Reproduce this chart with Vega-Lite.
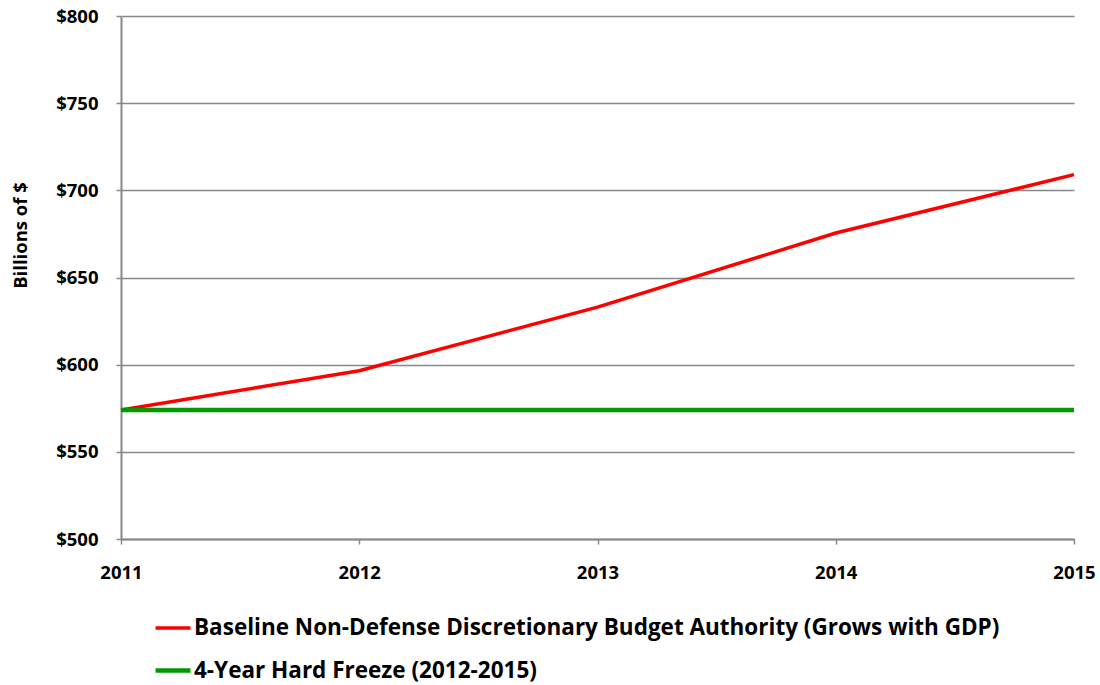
{
  "$schema": "https://vega.github.io/schema/vega-lite/v6.json",
  "width": 953,
  "height": 523,
  "autosize": {"type": "none"},
  "padding": {"left": 121, "top": 16, "right": 26, "bottom": 146},
  "background": "white",
  "config": {
    "view": {"stroke": null},
    "font": "Open Sans"
  },
  "data": {
    "values": [
      {"year": 2011, "value": 574, "series": "Baseline Non-Defense Discretionary Budget Authority (Grows with GDP)"},
      {"year": 2012, "value": 596.5, "series": "Baseline Non-Defense Discretionary Budget Authority (Grows with GDP)"},
      {"year": 2013, "value": 633, "series": "Baseline Non-Defense Discretionary Budget Authority (Grows with GDP)"},
      {"year": 2014, "value": 675.5, "series": "Baseline Non-Defense Discretionary Budget Authority (Grows with GDP)"},
      {"year": 2015, "value": 709, "series": "Baseline Non-Defense Discretionary Budget Authority (Grows with GDP)"},
      {"year": 2011, "value": 574, "series": "4-Year Hard Freeze (2012-2015)"},
      {"year": 2012, "value": 574, "series": "4-Year Hard Freeze (2012-2015)"},
      {"year": 2013, "value": 574, "series": "4-Year Hard Freeze (2012-2015)"},
      {"year": 2014, "value": 574, "series": "4-Year Hard Freeze (2012-2015)"},
      {"year": 2015, "value": 574, "series": "4-Year Hard Freeze (2012-2015)"}
    ]
  },
  "mark": {"type": "line", "strokeCap": "butt"},
  "encoding": {
    "x": {
      "field": "year",
      "type": "quantitative",
      "scale": {"domain": [2011, 2015], "nice": false, "zero": false},
      "axis": {
        "title": null,
        "values": [2011, 2012, 2013, 2014, 2015],
        "format": "d",
        "grid": false,
        "domainColor": "#888888",
        "domainWidth": 2,
        "tickColor": "#888888",
        "tickWidth": 1.5,
        "tickSize": 5,
        "labelFont": "Open Sans",
        "labelFontSize": 18.5,
        "labelFontWeight": "bold",
        "labelColor": "#000000",
        "labelPadding": 19,
        "labelFlush": false
      }
    },
    "y": {
      "field": "value",
      "type": "quantitative",
      "scale": {"domain": [500, 800], "nice": false, "zero": false},
      "axis": {
        "title": "Billions of $",
        "titleFont": "Open Sans",
        "titleFontSize": 18.5,
        "titleFontWeight": "bold",
        "titleColor": "#000000",
        "titleX": -101,
        "titleY": 219,
        "titleAngle": -90,
        "titleAlign": "center",
        "titleBaseline": "middle",
        "values": [500, 550, 600, 650, 700, 750, 800],
        "labelExpr": "'$' + datum.value",
        "grid": true,
        "gridColor": "#888888",
        "gridWidth": 1.5,
        "domainColor": "#888888",
        "domainWidth": 2,
        "tickColor": "#888888",
        "tickWidth": 1.5,
        "tickSize": 5,
        "labelFont": "Open Sans",
        "labelFontSize": 18.5,
        "labelFontWeight": "bold",
        "labelColor": "#000000",
        "labelPadding": 18
      }
    },
    "color": {
      "field": "series",
      "type": "nominal",
      "scale": {
        "domain": ["Baseline Non-Defense Discretionary Budget Authority (Grows with GDP)", "4-Year Hard Freeze (2012-2015)"],
        "range": ["#ff0000", "#009900"]
      },
      "legend": {
        "title": null,
        "orient": "none",
        "legendX": 32,
        "legendY": 592.5,
        "symbolType": "stroke",
        "symbolSize": 1225,
        "symbolStrokeWidth": 3.5,
        "labelFont": "Open Sans",
        "labelFontSize": 22.5,
        "labelFontWeight": "bold",
        "labelColor": "#000000",
        "labelOffset": 1,
        "rowPadding": 11,
        "labelLimit": 1000
      }
    },
    "strokeWidth": {
      "field": "series",
      "type": "nominal",
      "scale": {
        "domain": ["Baseline Non-Defense Discretionary Budget Authority (Grows with GDP)", "4-Year Hard Freeze (2012-2015)"],
        "range": [3.5, 4.5]
      },
      "legend": null
    }
  }
}
